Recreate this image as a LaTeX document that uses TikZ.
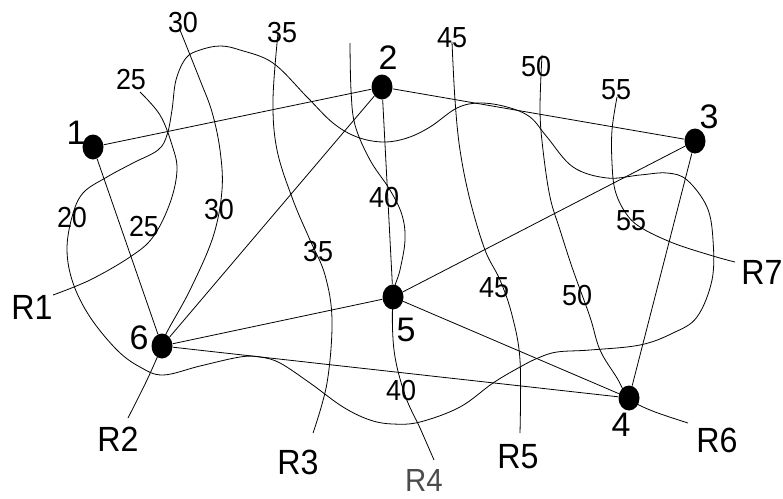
\documentclass[tikz,border=0pt]{standalone}
\usepackage{fontspec}
\setmainfont{Liberation Sans}
\newfontfamily\numfont{Liberation Sans}[FakeStretch=0.93]
\newfontfamily\regfont{Liberation Sans}[FakeStretch=0.92]
\usetikzlibrary{shapes.geometric}
\begin{document}
\begin{tikzpicture}[x=1pt,y=-1pt,line width=0.8pt,
  vertex/.style={ellipse,fill=black,draw=none,inner sep=0pt,minimum width=21pt,minimum height=25pt},
  vlabel/.style={inner sep=0pt,font=\fontsize{34}{34}\selectfont},
  value/.style={inner sep=0pt,font=\numfont\fontsize{29}{29}\selectfont},
  region/.style={inner sep=0pt,font=\regfont\fontsize{35}{35}\selectfont},
  contour/.style={smooth,tension=0.6}]
\useasboundingbox (0,0) rectangle (783,498);

% vertices
\node[vertex] (n1) at (93,147) {};
\node[vertex] (n2) at (382,87) {};
\node[vertex] (n3) at (695,141) {};
\node[vertex] (n4) at (629,398) {};
\node[vertex] (n5) at (393,297) {};
\node[vertex] (n6) at (162,346) {};

% vertex labels
\node[vlabel] (l1) at (76,133) {1};
\node[vlabel] (l2) at (388,58) {2};
\node[vlabel] (l3) at (709,117) {3};
\node[vlabel] (l4) at (621,425) {4};
\node[vlabel] (l5) at (406,330) {5};
\node[vlabel] (l6) at (139,338) {6};

% graph edges
\draw (n1) -- (n2);
\draw (n1) -- (n6);
\draw (n2) -- (n3);
\draw (n2) -- (n6);
\draw (n2) -- (n5);
\draw (n3) -- (n5);
\draw (n3) -- (n4);
\draw (n6) -- (n5);
\draw (n6) -- (n4);
\draw (n5) -- (n4);

% closed contour (20)
\draw plot[smooth cycle,tension=0.6] coordinates {
  (67,250) (72,217) (83,193) (107,177) (133,163) (158,150) (167,135)
  (172,110) (176,80) (186,58) (200,50) (220,46) (240,50) (273,63)
  (307,97) (333,123) (357,137) (383,142) (407,138) (430,127) (457,108)
  (480,103) (507,107) (530,117) (547,137) (573,167) (607,178) (640,175)
  (667,173) (687,180) (707,207) (713,240) (712,280) (697,317) (673,333)
  (640,345) (590,350) (557,352) (538,358) (520,367) (493,383) (460,407)
  (420,422) (393,424) (370,420) (343,407) (310,383) (280,363) (260,357)
  (240,357) (200,366) (163,375) (140,367) (117,350) (90,317) (73,283)};

% open contours R1 ... R7
\draw plot[contour] coordinates {(53,295) (90,280) (130,257) (153,237)
  (170,203) (177,170) (172,145) (160,115) (140,92)};
\draw plot[contour] coordinates {(128,418) (147,380) (n6.center) (167,332)
  (190,290) (213,237) (222,190) (220,150) (212,112) (200,80) (180,30)};
\draw plot[contour] coordinates {(313,433) (327,383) (332,320) (325,275)
  (310,240) (293,200) (277,150) (273,100) (278,33)};
\draw plot[contour] coordinates {(434,460) (420,428) (405,395) (394,350)
  (n5.center) (400,270) (405,240) (402,215) (390,190) (370,160) (355,125)
  (351,90) (350,43)};
\draw plot[contour] coordinates {(520,433) (520,360) (512,315) (500,280)
  (485,250) (470,200) (460,150) (455,100) (452,42)};
\draw plot[contour] coordinates {(688,423) (650,410) (n4.center) (617,378)
  (600,350) (590,317) (573,270) (560,230) (550,197) (543,150) (540,110)
  (542,55)};
\draw plot[contour] coordinates {(735,262) (713,256) (673,243) (640,227)
  (625,212) (615,190) (612,163) (612,130) (617,97)};

% contour values
\node[value] (v20) at (72,218) {20};
\node[value] (v25a) at (131,80) {25};
\node[value] (v25b) at (144,227) {25};
\node[value] (v30a) at (183,23) {30};
\node[value] (v30b) at (219,210) {30};
\node[value] (v35a) at (282,33) {35};
\node[value] (v35b) at (318,252) {35};
\node[value] (v40a) at (384,198) {40};
\node[value] (v40b) at (401,391) {40};
\node[value] (v45a) at (452,38) {45};
\node[value] (v45b) at (494,288) {45};
\node[value] (v50a) at (536,67) {50};
\node[value] (v50b) at (577,296) {50};
\node[value] (v55a) at (616,90) {55};
\node[value] (v55b) at (631,221) {55};

% region names
\node[region] (r1) at (32,307) {R1};
\node[region] (r2) at (118,439) {R2};
\node[region] (r3) at (298,462) {R3};
\node[region,text=black!70,font=\regfont\fontsize{32}{32}\selectfont] (r4) at (424,480) {R4};
\node[region] (r5) at (518,457) {R5};
\node[region] (r6) at (717,440) {R6};
\node[region] (r7) at (762,272) {R7};
\end{tikzpicture}
\end{document}
